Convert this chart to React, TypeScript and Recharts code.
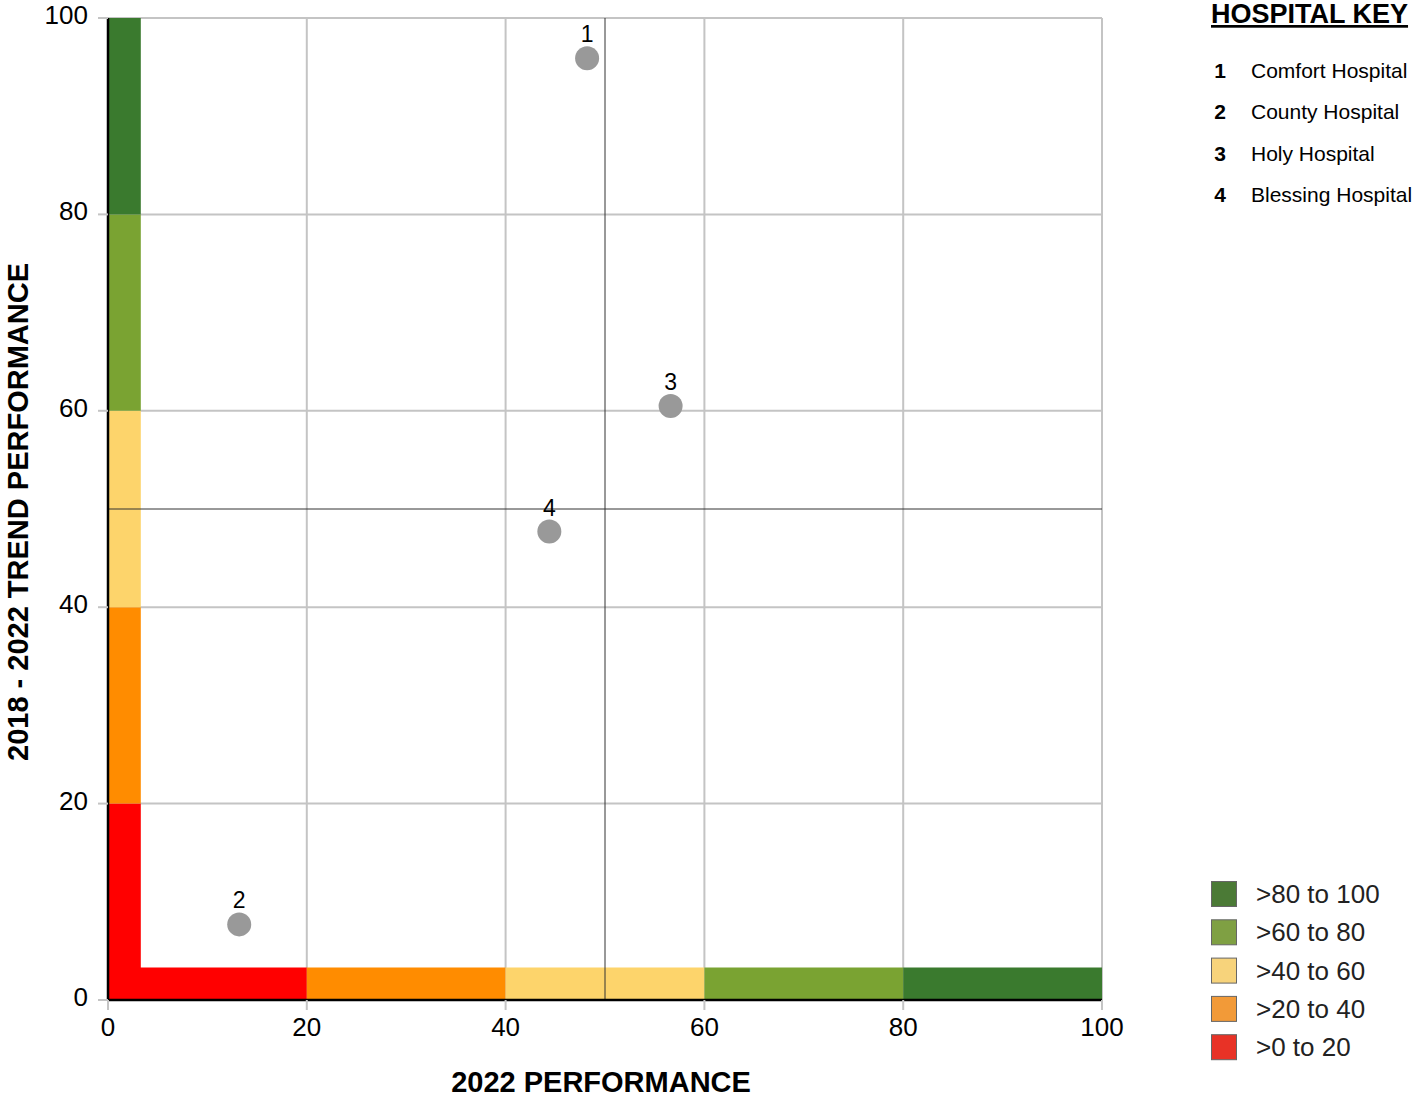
import React from 'react';
import {
  ScatterChart,
  Scatter,
  XAxis,
  YAxis,
  CartesianGrid,
  ReferenceArea,
  ReferenceLine,
} from 'recharts';

const hospitalIds = ['1', '2', '3', '4'];
const hospitalNames = ['Comfort Hospital', 'County Hospital', 'Holy Hospital', 'Blessing Hospital'];
const performance2022 = [48.2, 13.2, 56.6, 44.4];
const trendPerformance = [95.9, 7.7, 60.5, 47.7];

const axisTicks = [0, 20, 40, 60, 80, 100];
const bandLows = [0, 20, 40, 60, 80];
const bandHighs = [20, 40, 60, 80, 100];
const bandFills = ['#ff0000', '#ff8c00', '#fdd46b', '#7aa332', '#3a7a2e'];
const legendFills = ['#e83226', '#f29a38', '#f7d37b', '#7fa043', '#4b7a36'];
const legendLabels = ['>0 to 20', '>20 to 40', '>40 to 60', '>60 to 80', '>80 to 100'];

const FONT = '"Liberation Sans", Arial, Helvetica, sans-serif';
const BAND = 3.3;

const points = hospitalIds.map((id, i) => ({
  id,
  name: hospitalNames[i],
  x: performance2022[i],
  y: trendPerformance[i],
}));

const PointShape = (props: any) => {
  const { cx, cy, payload } = props;
  return (
    <g>
      <circle cx={cx} cy={cy} r={12} fill="#999999" />
      <text
        x={cx}
        y={cy - 16}
        textAnchor="middle"
        fontSize={23}
        fontFamily={FONT}
        fill="#000"
      >
        {payload.id}
      </text>
    </g>
  );
};

const YTick = (props: any) => {
  const { x, y, payload } = props;
  return (
    <text x={x} y={y - 3} textAnchor="end" dominantBaseline="central" fontSize={26} fontFamily={FONT} fill="#000">
      {payload.value}
    </text>
  );
};

export default function App() {
  return (
    <div style={{ position: 'absolute', left: 0, top: 0, width: 1414, height: 1097, background: '#fff' }}>
      <div style={{ position: 'absolute', left: 0, top: 0 }}>
        <ScatterChart
          width={1150}
          height={1097}
          margin={{ top: 18, right: 48, bottom: 57, left: 40 }}
        >
          <CartesianGrid stroke="#c4c4c4" strokeWidth={2} />
          {bandLows.map((lo, i) => (
            <ReferenceArea
              key={'b' + i}
              x1={lo}
              x2={bandHighs[i]}
              y1={0}
              y2={BAND}
              fill={bandFills[i]}
              fillOpacity={1}
              stroke="none"
            />
          ))}
          {bandLows.map((lo, i) => (
            <ReferenceArea
              key={'l' + i}
              x1={0}
              x2={BAND}
              y1={lo}
              y2={bandHighs[i]}
              fill={bandFills[i]}
              fillOpacity={1}
              stroke="none"
            />
          ))}
          <ReferenceLine x={50} stroke="#333" strokeWidth={1} />
          <ReferenceLine y={50} stroke="#333" strokeWidth={1} />
          <XAxis
            type="number"
            dataKey="x"
            domain={[0, 100]}
            ticks={axisTicks}
            height={40}
            tickSize={10}
            tickMargin={8}
            axisLine={{ stroke: '#000', strokeWidth: 2.5 }}
            tickLine={{ stroke: '#c4c4c4', strokeWidth: 2 }}
            tick={{ fontSize: 26, fill: '#000', fontFamily: FONT }}
          />
          <YAxis
            type="number"
            dataKey="y"
            domain={[0, 100]}
            ticks={axisTicks}
            width={68}
            tickSize={10}
            tickMargin={10}
            axisLine={{ stroke: '#000', strokeWidth: 2.5 }}
            tickLine={{ stroke: '#c4c4c4', strokeWidth: 2 }}
            tick={<YTick />}
          />
          <Scatter data={points} isAnimationActive={false} shape={PointShape} />
        </ScatterChart>
      </div>
      <svg
        width={1414}
        height={1097}
        style={{ position: 'absolute', left: 0, top: 0, pointerEvents: 'none' }}
        fontFamily={FONT}
      >
        <text
          x={18}
          y={512}
          transform="rotate(-90, 18, 512)"
          textAnchor="middle"
          dominantBaseline="central"
          fontSize={29}
          fontWeight="bold"
          fill="#000"
        >
          2018 - 2022 TREND PERFORMANCE
        </text>
        <text
          x={601}
          y={1082}
          textAnchor="middle"
          dominantBaseline="central"
          fontSize={29}
          fontWeight="bold"
          fill="#000"
        >
          2022 PERFORMANCE
        </text>
        <text
          x={1211}
          y={23}
          fontSize={27}
          fontWeight="bold"
          fill="#000"
          style={{ textDecoration: 'underline' }}
        >
          HOSPITAL KEY
        </text>
        {hospitalIds.map((id, i) => (
          <g key={id}>
            <text x={1220} y={78 + i * 41.3} textAnchor="middle" fontSize={21} fontWeight="bold" fill="#000">
              {id}
            </text>
            <text x={1251} y={78 + i * 41.3} fontSize={21} fill="#000">
              {hospitalNames[i]}
            </text>
          </g>
        ))}
        {legendLabels
          .map((label, i) => ({ label, fill: legendFills[i] }))
          .reverse()
          .map((item, j) => (
            <g key={item.label}>
              <rect
                x={1211.5}
                y={881.5 + j * 38.3}
                width={25}
                height={25}
                fill={item.fill}
                stroke="#666"
                strokeWidth={1}
              />
              <text x={1256} y={903 + j * 38.3} fontSize={26} fill="#222">
                {item.label}
              </text>
            </g>
          ))}
      </svg>
    </div>
  );
}
